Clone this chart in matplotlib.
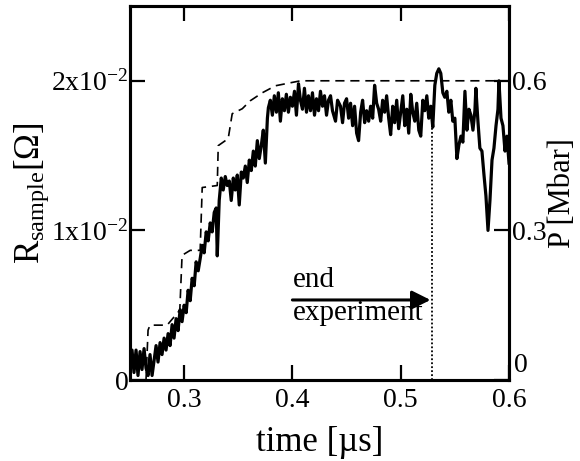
import matplotlib
matplotlib.use("Agg")
import matplotlib.pyplot as plt

plt.rcParams['font.family'] = ['Liberation Serif', 'DejaVu Serif']
plt.rcParams['mathtext.fontset'] = 'custom'
plt.rcParams['mathtext.rm'] = 'Liberation Serif'
plt.rcParams['mathtext.it'] = 'Liberation Serif:italic'

# sample resistance, time in us, R in units of 1e-2 Ohm
t_res = [0.2500, 0.2519, 0.2537, 0.2556, 0.2574, 0.2593, 0.2611, 0.2630, 0.2648, 0.2667,
         0.2685, 0.2704, 0.2722, 0.2741, 0.2759, 0.2778, 0.2796, 0.2815, 0.2833, 0.2852,
         0.2870, 0.2889, 0.2907, 0.2926, 0.2944, 0.2963, 0.2981, 0.3000, 0.3019, 0.3037,
         0.3056, 0.3074, 0.3093, 0.3111, 0.3130, 0.3148, 0.3167, 0.3185, 0.3204, 0.3222,
         0.3241, 0.3259, 0.3278, 0.3296, 0.3306, 0.3324, 0.3343, 0.3361, 0.3380, 0.3398,
         0.3417, 0.3435, 0.3454, 0.3472, 0.3491, 0.3509, 0.3528, 0.3546, 0.3565, 0.3583,
         0.3602, 0.3620, 0.3639, 0.3657, 0.3676, 0.3694, 0.3713, 0.3731, 0.3750, 0.3769,
         0.3778, 0.3796, 0.3815, 0.3833, 0.3852, 0.3870, 0.3889, 0.3907, 0.3926, 0.3944,
         0.3963, 0.3981, 0.4000, 0.4019, 0.4037, 0.4056, 0.4074, 0.4093, 0.4111, 0.4130,
         0.4148, 0.4167, 0.4185, 0.4204, 0.4222, 0.4241, 0.4259, 0.4278, 0.4296, 0.4315,
         0.4333, 0.4352, 0.4370, 0.4398, 0.4417, 0.4444, 0.4463, 0.4481, 0.4500, 0.4519,
         0.4537, 0.4556, 0.4574, 0.4593, 0.4611, 0.4630, 0.4648, 0.4667, 0.4685, 0.4704,
         0.4722, 0.4741, 0.4759, 0.4778, 0.4796, 0.4815, 0.4833, 0.4852, 0.4870, 0.4889,
         0.4907, 0.4926, 0.4944, 0.4963, 0.4981, 0.5000, 0.5019, 0.5037, 0.5056, 0.5074,
         0.5093, 0.5111, 0.5130, 0.5148, 0.5167, 0.5185, 0.5204, 0.5222, 0.5241, 0.5259,
         0.5278, 0.5296, 0.5315, 0.5333, 0.5352, 0.5370, 0.5389, 0.5407, 0.5426, 0.5444,
         0.5463, 0.5481, 0.5500, 0.5519, 0.5537, 0.5556, 0.5574, 0.5593, 0.5611, 0.5630,
         0.5648, 0.5667, 0.5685, 0.5694, 0.5713, 0.5731, 0.5750, 0.5769, 0.5787, 0.5806,
         0.5824, 0.5843, 0.5861, 0.5880, 0.5898, 0.5907, 0.5926, 0.5944, 0.5963, 0.5981,
         0.6000]
r_sample = [0.05, 0.20, 0.05, 0.20, 0.03, 0.19, 0.07, 0.21, 0.08, 0.03,
            0.17, 0.03, 0.13, 0.23, 0.12, 0.25, 0.17, 0.28, 0.20, 0.31,
            0.23, 0.37, 0.28, 0.41, 0.33, 0.47, 0.39, 0.50, 0.45, 0.60,
            0.53, 0.68, 0.63, 0.79, 0.73, 0.81, 0.90, 0.85, 0.99, 0.93,
            1.05, 0.99, 1.12, 1.15, 0.83, 1.20, 1.35, 1.27, 1.36, 1.30,
            1.33, 1.20, 1.35, 1.27, 1.37, 1.17, 1.39, 1.35, 1.43, 1.32,
            1.47, 1.40, 1.53, 1.43, 1.60, 1.48, 1.57, 1.67, 1.45, 1.75,
            1.82, 1.87, 1.77, 1.90, 1.79, 1.92, 1.73, 1.88, 1.80, 1.91,
            1.79, 1.89, 1.83, 1.93, 1.77, 1.98, 1.87, 1.81, 1.95, 1.79,
            1.90, 1.80, 1.92, 1.77, 1.88, 1.80, 1.93, 1.83, 1.90, 1.77,
            1.87, 1.90, 1.80, 1.73, 1.87, 1.83, 1.72, 1.85, 1.88, 1.75,
            1.85, 1.70, 1.83, 1.65, 1.60, 1.79, 1.87, 1.72, 1.80, 1.73,
            1.83, 1.75, 1.97, 1.85, 1.81, 1.73, 1.87, 1.79, 1.90, 1.75,
            1.64, 1.83, 1.72, 1.87, 1.68, 1.79, 1.90, 1.70, 1.81, 1.65,
            1.91, 1.79, 1.73, 1.85, 1.67, 1.63, 1.87, 1.80, 1.90, 1.75,
            1.83, 1.69, 1.97, 2.05, 2.08, 2.05, 1.92, 1.89, 1.93, 1.79,
            1.87, 1.73, 1.75, 1.48, 1.57, 1.63, 1.59, 1.93, 1.67, 1.81,
            1.77, 1.67, 1.80, 1.95, 1.73, 1.55, 1.53, 1.37, 1.23, 1.00,
            1.20, 1.47, 1.55, 1.70, 1.81, 2.00, 1.75, 1.70, 1.53, 1.63,
            1.45]

# pressure, time in us, P in Mbar
t_press = [0.2500, 0.2648, 0.2667, 0.2685, 0.2843, 0.2960, 0.2981, 0.3056, 0.3148, 0.3167,
           0.3306, 0.3315, 0.3407, 0.3444, 0.3537, 0.3611, 0.3722, 0.3843, 0.3981, 0.4074,
           0.6000]
p_mbar = [0.0, 0.0, 0.10, 0.11, 0.11, 0.14, 0.25, 0.26, 0.26, 0.386,
          0.39, 0.47, 0.484, 0.534, 0.544, 0.56, 0.576, 0.59, 0.596, 0.60,
          0.60]

t_end = 0.529
r_end = 1.69

fig = plt.figure(figsize=(5.8, 4.61), dpi=100)
ax = fig.add_axes([0.2241, 0.1757, 0.6535, 0.8113])
ax2 = ax.twinx()

ax2.plot(t_press, p_mbar, color='black', lw=1.2, ls=(0, (5.5, 3.5)))
ax.plot(t_res, [r * 1e-2 for r in r_sample], color='black', lw=2.3)
ax.plot([t_end, t_end], [0, r_end * 1e-2], color='black', lw=1.3, ls=(0, (1, 1.2)))

ax.annotate('', xy=(0.5275, 0.535e-2), xytext=(0.40, 0.535e-2),
            arrowprops=dict(arrowstyle='-|>', lw=2.2, color='black', mutation_scale=28,
                            shrinkA=0, shrinkB=0))
ax.text(0.4005, 0.62e-2, 'end', fontsize=21, ha='left', va='baseline')
ax.text(0.4005, 0.40e-2, 'experiment', fontsize=21, ha='left', va='baseline')

ax.set_xlim(0.25, 0.6)
ax.set_ylim(0, 0.025)
ax2.set_ylim(0, 0.75)

ax.set_xticks([0.3, 0.4, 0.5, 0.6])
ax.set_xticklabels(['0.3', '0.4', '0.5', '0.6'])
ax.set_yticks([0, 0.01, 0.02])
ax.set_yticklabels(['0', '1x10$^{-2}$', '2x10$^{-2}$'])
ax2.set_yticks([0, 0.3, 0.6])
ax2.set_yticklabels(['', '0.3', '0.6'])
ax2.text(1.012, 0.005, '0', transform=ax2.transAxes, fontsize=20, ha='left', va='bottom')

for a in (ax, ax2):
    for s in a.spines.values():
        s.set_linewidth(2.2)
ax.tick_params(axis='x', which='both', direction='in', length=11, width=1.6,
               top=True, labelsize=20, pad=6)
ax.tick_params(axis='y', direction='in', length=11, width=1.6, labelsize=20, pad=1)
ax2.tick_params(axis='y', direction='in', length=11, width=1.6, labelsize=20, pad=2)

ax.set_xlabel('time [µs]', fontsize=25, labelpad=9)
ax.set_ylabel(r'R$_{\rm sample}$[Ω]', fontsize=25, labelpad=0)
ax2.set_ylabel('P [Mbar]', fontsize=22, labelpad=1)

fig.savefig('out.png', dpi=100)
